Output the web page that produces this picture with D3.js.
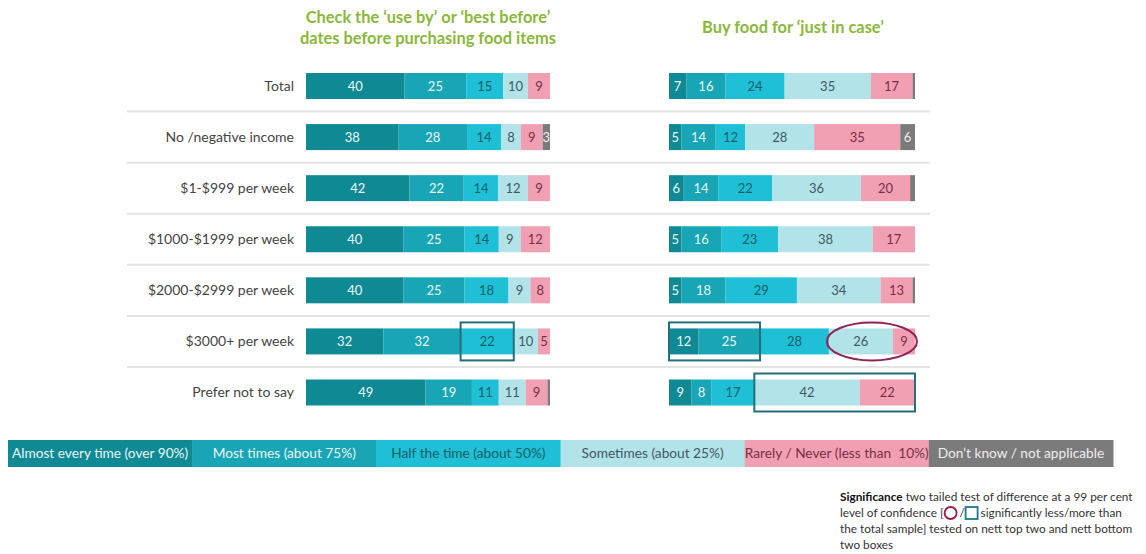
<!DOCTYPE html>
<html>
<head>
<meta charset="utf-8">
<script src="https://cdn.jsdelivr.net/npm/d3@7"></script>
<style>
  html, body { margin: 0; padding: 0; background: #fff; }
  svg { display: block; font-family: Lato, "Noto Sans", sans-serif; }
</style>
</head>
<body>
<svg id="chart" width="1146" height="554"></svg>
<script>
// ---------- DATA ----------
const categories = ["Total", "No /negative income", "$1-$999 per week", "$1000-$1999 per week",
  "$2000-$2999 per week", "$3000+ per week", "Prefer not to say"];
const seriesNames = ["Almost every time (over 90%)", "Most times (about 75%)", "Half the time (about 50%)",
  "Sometimes (about 25%)", "Rarely / Never (less than  10%)", "Don\u2019t know / not applicable"];
const panelTitles = [["Check the \u2018use by\u2019 or \u2018best before\u2019", "dates before purchasing food items"],
  ["Buy food for \u2018just in case\u2019"]];

// Panel 1: Check the 'use by' or 'best before' dates
const checkAlmost    = [40, 38, 42, 40, 40, 32, 49];
const checkMost      = [25, 28, 22, 25, 25, 32, 19];
const checkHalf      = [15, 14, 14, 14, 18, 22, 11];
const checkSometimes = [10, 8, 12, 9, 9, 10, 11];
const checkRarely    = [9, 9, 9, 12, 8, 5, 9];
const checkDontKnow  = [0, 3, 0, 0, 0, 0, 1];

// Panel 2: Buy food for 'just in case'
const buyAlmost    = [7, 5, 6, 5, 5, 12, 9];
const buyMost      = [16, 14, 14, 16, 18, 25, 8];
const buyHalf      = [24, 12, 22, 23, 29, 28, 17];
const buySometimes = [35, 28, 36, 38, 34, 26, 42];
const buyRarely    = [17, 35, 20, 17, 13, 9, 22];
const buyDontKnow  = [1, 6, 2, 0, 1, 0, 0];

// Significance markers: panel index, row, first & last segment, type
const sigMarks = [
  { panel: 0, row: "$3000+ per week", from: 2, to: 2, type: "more" },
  { panel: 1, row: "$3000+ per week", from: 0, to: 1, type: "more" },
  { panel: 1, row: "$3000+ per week", from: 3, to: 4, type: "less" },
  { panel: 1, row: "Prefer not to say", from: 3, to: 4, type: "more" }
];

const significanceLines = [
  "two tailed test of difference at a 99 per cent",
  "level of confidence [",
  "significantly less/more than",
  "the total sample] tested on nett top two and nett bottom",
  "two boxes"
];

// ---------- STYLE ----------
const colors = ["#0f8a95", "#18a5b5", "#1fc0d6", "#b2e3e9", "#f1a0b4", "#7b7b7b"];
const textColors = ["#e9f7f8", "#e9f7f8", "#0f5f69", "#3e5962", "#7b2f46", "#eeeeee"];
const titleColor = "#8ab83a";

const svg = d3.select("#chart");

const panels = [
  [checkAlmost, checkMost, checkHalf, checkSometimes, checkRarely, checkDontKnow],
  [buyAlmost, buyMost, buyHalf, buySometimes, buyRarely, buyDontKnow]
];
const panelRanges = [[306, 550], [669, 915]];

const y = d3.scalePoint().domain(categories).range([86, 392.5]);
const barH = 26;
const step = y.step();

// separator lines
svg.append("g").selectAll("line")
  .data(categories.slice(1))
  .join("line")
  .attr("x1", 127).attr("x2", 930)
  .attr("y1", d => y(d) - step / 2).attr("y2", d => y(d) - step / 2)
  .attr("stroke", "#e4e4e4").attr("stroke-width", 2);

// row labels
svg.append("g").selectAll("text")
  .data(categories)
  .join("text")
  .attr("x", 294).attr("y", d => y(d))
  .attr("dy", "0.35em")
  .attr("text-anchor", "end")
  .attr("font-size", 14)
  .attr("fill", "#444")
  .text(d => d);

// titles
const titleCenters = [428, 793];
const titleY = [[23, 44], [33]];
panelTitles.forEach((lines, p) => {
  lines.forEach((t, i) => {
    svg.append("text")
      .attr("x", titleCenters[p]).attr("y", titleY[p][i])
      .attr("text-anchor", "middle")
      .attr("font-size", 16.4).attr("font-weight", 700)
      .attr("fill", titleColor)
      .text(t);
  });
});

// bars
const segInfo = [];
panels.forEach((series, p) => {
  const g = svg.append("g");
  segInfo[p] = {};
  categories.forEach((cat, r) => {
    const vals = series.map(s => s[r]);
    const total = d3.sum(vals);
    const x = d3.scaleLinear().domain([0, total]).range(panelRanges[p]);
    const segs = [];
    let acc = 0;
    vals.forEach((v, i) => { segs.push({ i, v, x0: acc, x1: acc + v }); acc += v; });
    segInfo[p][cat] = { x, segs };
    const rg = g.append("g");
    rg.selectAll("rect").data(segs.filter(s => s.v > 0)).join("rect")
      .attr("x", s => x(s.x0)).attr("width", s => x(s.x1) - x(s.x0))
      .attr("y", y(cat) - barH / 2).attr("height", barH)
      .attr("fill", s => colors[s.i]);
    rg.selectAll("text").data(segs.filter(s => s.v >= 3)).join("text")
      .attr("x", s => (x(s.x0) + x(s.x1)) / 2).attr("y", y(cat))
      .attr("dy", "0.36em").attr("text-anchor", "middle")
      .attr("font-size", 13)
      .attr("fill", s => textColors[s.i])
      .text(s => s.v);
  });
});

// significance markers
sigMarks.forEach(m => {
  const info = segInfo[m.panel][m.row];
  const a = info.x(info.segs[m.from].x0);
  const b = info.x(info.segs[m.to].x1);
  const cy = y(m.row);
  if (m.type === "more") {
    svg.append("rect")
      .attr("x", a).attr("y", cy - 19).attr("width", b - a).attr("height", 38)
      .attr("fill", "none").attr("stroke", "#22707a").attr("stroke-width", 2);
  } else {
    svg.append("ellipse")
      .attr("cx", (a + b) / 2).attr("cy", cy)
      .attr("rx", (b - a) / 2 + 2).attr("ry", 19)
      .attr("fill", "none").attr("stroke", "#8e2456").attr("stroke-width", 2);
  }
});

// legend
const legX = d3.scaleBand().domain(seriesNames).range([8, 1113]).padding(0);
const lg = svg.append("g");
lg.selectAll("rect").data(seriesNames).join("rect")
  .attr("x", d => legX(d)).attr("y", 440)
  .attr("width", legX.bandwidth() + 0.5).attr("height", 27)
  .attr("fill", (d, i) => colors[i]);
lg.selectAll("text").data(seriesNames).join("text")
  .attr("x", d => legX(d) + legX.bandwidth() / 2).attr("y", 453.5)
  .attr("dy", "0.35em").attr("text-anchor", "middle")
  .attr("font-size", 13.7)
  .attr("fill", (d, i) => textColors[i])
  .attr("xml:space", "preserve")
  .text(d => d);

// significance note
const ng = svg.append("g").attr("font-size", 11.8).attr("fill", "#333");
const nx = 840;
const l1 = ng.append("text").attr("x", nx).attr("y", 501);
l1.append("tspan").attr("font-weight", 700).attr("fill", "#111").text("Significance");
l1.append("tspan").text(" " + significanceLines[0]);

const l2a = ng.append("text").attr("x", nx).attr("y", 517).text(significanceLines[1]);
const w2 = l2a.node().getComputedTextLength();
const cx0 = nx + w2 + 7;
ng.append("circle").attr("cx", cx0).attr("cy", 513).attr("r", 6)
  .attr("fill", "none").attr("stroke", "#9b1b4a").attr("stroke-width", 1.8);
ng.append("text").attr("x", cx0 + 9).attr("y", 517).text("/");
ng.append("rect").attr("x", cx0 + 15).attr("y", 507).attr("width", 12).attr("height", 12)
  .attr("fill", "none").attr("stroke", "#1e7a86").attr("stroke-width", 1.8);
ng.append("text").attr("x", cx0 + 30).attr("y", 517).text(significanceLines[2]);

ng.append("text").attr("x", nx).attr("y", 533).text(significanceLines[3]);
ng.append("text").attr("x", nx).attr("y", 549).text(significanceLines[4]);
</script>
</body>
</html>
